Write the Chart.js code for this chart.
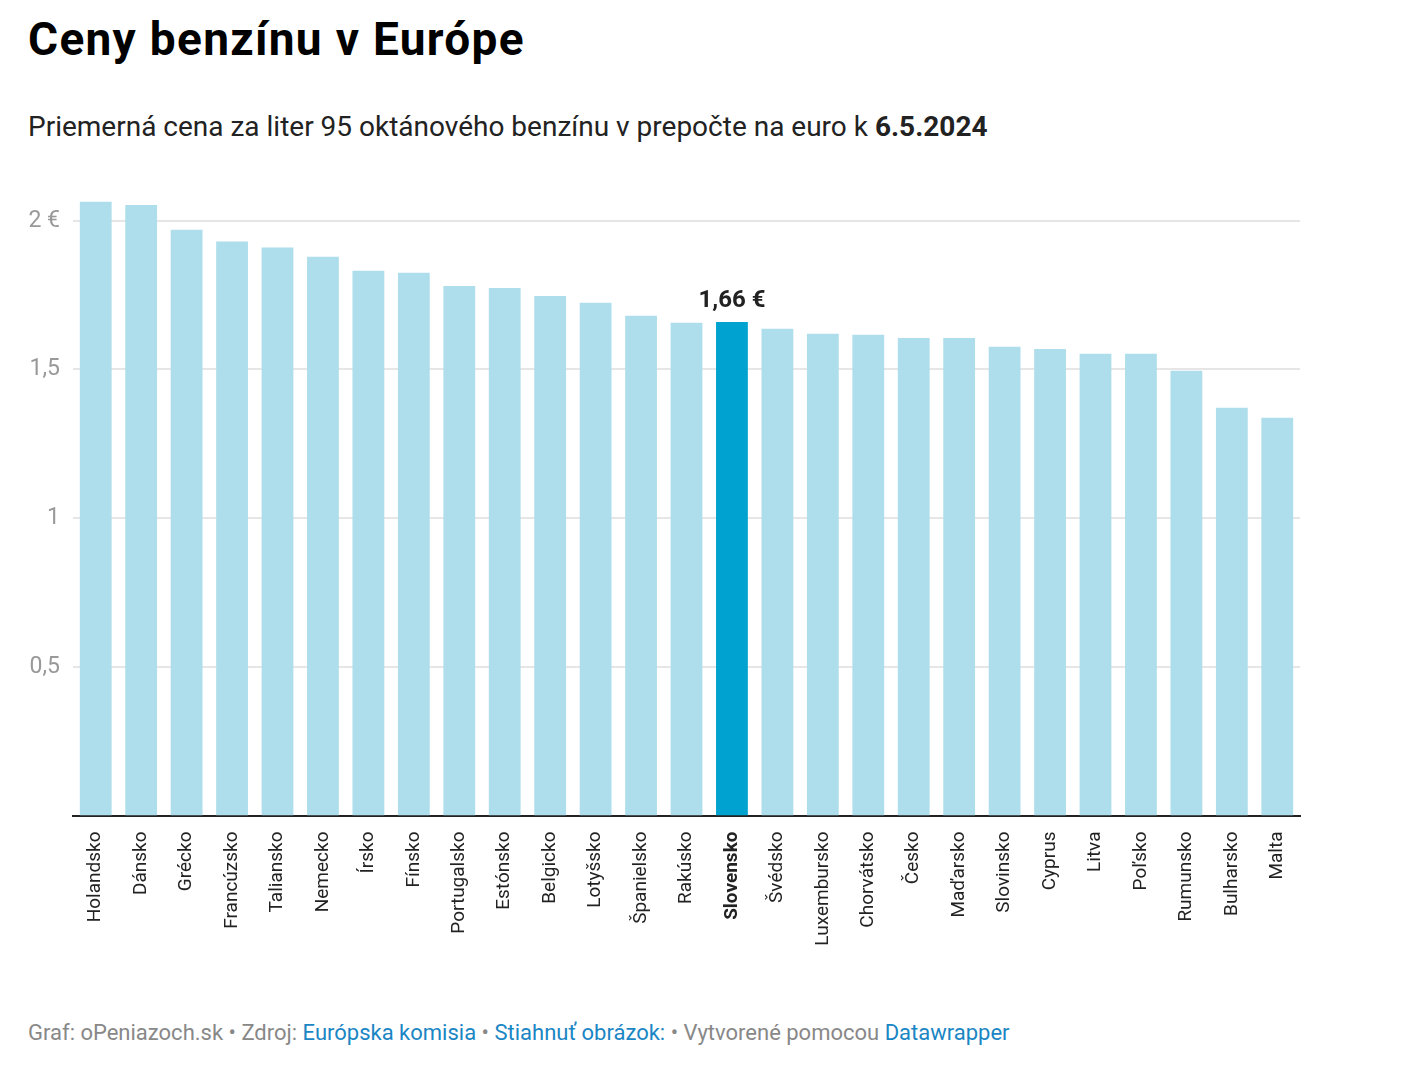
<!DOCTYPE html>
<html><head><meta charset="utf-8">
<script src="https://cdn.jsdelivr.net/npm/chart.js@4/dist/chart.umd.min.js"></script>
<style>
html,body{margin:0;padding:0;background:#fff;width:1408px;height:1068px;overflow:hidden;font-family:Roboto,sans-serif;}
#title{position:absolute;left:28px;top:12px;font-size:46px;font-weight:700;color:#000;letter-spacing:1.3px;white-space:nowrap;}
#sub{position:absolute;left:28px;top:110px;font-size:28px;color:#222;white-space:nowrap;}
#foot{position:absolute;left:28px;top:1020px;font-size:22px;color:#888;white-space:nowrap;}
#foot a{color:#1a86c4;text-decoration:none;}
#wrap{position:absolute;left:0;top:0;width:1408px;height:1068px;}
</style></head><body>
<div id="title">Ceny benzínu v Európe</div>
<div id="sub">Priemerná cena za liter 95 oktánového benzínu v prepočte na euro k <b>6.5.2024</b></div>
<div id="foot">Graf: oPeniazoch.sk • Zdroj: <a>Európska komisia</a> • <a>Stiahnuť obrázok:</a> • Vytvorené pomocou <a>Datawrapper</a></div>
<div id="wrap"><canvas id="c" width="1408" height="1068"></canvas></div>
<script>
const countries = ["Holandsko","Dánsko","Grécko","Francúzsko","Taliansko","Nemecko","Írsko","Fínsko","Portugalsko","Estónsko","Belgicko","Lotyšsko","Španielsko","Rakúsko","Slovensko","Švédsko","Luxembursko","Chorvátsko","Česko","Maďarsko","Slovinsko","Cyprus","Litva","Poľsko","Rumunsko","Bulharsko","Malta"];
const prices = [2.064,2.053,1.970,1.930,1.910,1.879,1.832,1.825,1.781,1.774,1.747,1.724,1.681,1.657,1.66,1.637,1.620,1.617,1.606,1.606,1.576,1.569,1.553,1.553,1.496,1.371,1.338];
const yTicks = [0.5,1,1.5,2];
const yTickLabels = ["0,5","1","1,5","2 €"];
const highlight = "Slovensko";
const highlightLabel = "1,66 €";

const hiIdx = countries.indexOf(highlight);

const annot = {
  id:'annot',
  afterDatasetsDraw(chart){
    const {ctx} = chart;
    const x = chart.scales.x.getPixelForValue(hiIdx);
    const y = chart.scales.y.getPixelForValue(prices[hiIdx]);
    ctx.save();
    ctx.font = "bold 24px Roboto";
    ctx.fillStyle = "#222";
    ctx.textAlign = "center";
    ctx.textBaseline = "alphabetic";
    ctx.fillText(highlightLabel, x, y - 15);
    ctx.restore();
  }
};

new Chart(document.getElementById('c'), {
  type:'bar',
  data:{labels:countries, datasets:[{
    data:prices,
    backgroundColor: countries.map(c => c===highlight ? "#00a3cf" : "#aedeeb"),
    barPercentage:0.70, categoryPercentage:1.0
  }]},
  options:{
    responsive:false, animation:false,
    layout:{padding:{top:197,right:108,left:0,bottom:0}},
    plugins:{legend:{display:false},tooltip:{enabled:false}},
    scales:{
      x:{
        grid:{display:false, drawTicks:false},
        border:{display:true,color:"#222",width:2},
        ticks:{
          maxRotation:90,minRotation:90,padding:16,autoSkip:false,
          color:"#222",
          font: ctx => ({family:"Roboto",size:19,weight: countries[ctx.index]===highlight ? "bold":"normal"})
        },
        afterFit(s){ s.height = 1068-815.5; }
      },
      y:{
        min:0,max:2.08,
        afterBuildTicks(s){ s.ticks = yTicks.map(v=>({value:v})); },
        grid:{color:"#e6e6e6",lineWidth:2,drawTicks:false},
        border:{display:false},
        ticks:{
          padding:13,color:"#999",
          font:{family:"Roboto",size:23,lineHeight:1.0},
          callback:(v)=>{const i=yTicks.indexOf(v);return i>=0?yTickLabels[i]:"";}
        },
        afterFit(s){ s.width = 73; }
      }
    }
  },
  plugins:[annot]
});
</script>
</body></html>
